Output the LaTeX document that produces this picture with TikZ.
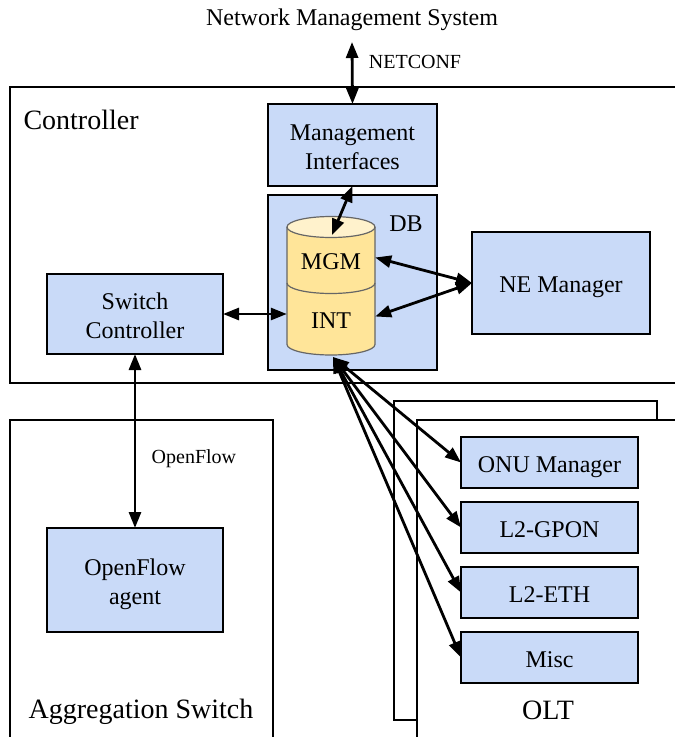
\documentclass[tikz,border=0pt]{standalone}
\usepackage{fontspec}
\setmainfont{Liberation Serif}
\usetikzlibrary{arrows.meta,positioning}
\definecolor{boxblue}{HTML}{C9DAF8}
\definecolor{dbyellow}{HTML}{FFE599}
\definecolor{dbtopfill}{HTML}{FFF2CC}
\definecolor{dbline}{HTML}{666666}

\begin{document}
\begin{tikzpicture}[
    x=1pt, y=-1pt,
    node distance=14pt,
    box/.style={rectangle, draw, line width=1.3pt, fill=boxblue, align=center, inner sep=0pt, outer sep=0pt, font=\fontsize{24}{29}\selectfont},
    oneline/.style={text height=19pt, text depth=0pt},
    twoline/.style={text height=48pt, text depth=0pt},
    oltbox/.style={box, oneline, minimum width=177pt, minimum height=51pt},
    panel/.style={line width=1.3pt},
    biglabel/.style={font=\fontsize{28}{32}\selectfont},
    lbl/.style={font=\fontsize{20}{24}\selectfont},
    dbpart/.style={inner sep=0pt, minimum width=88pt, text height=23pt, text depth=0pt, font=\fontsize{24}{28}\selectfont},
    arrow/.style={{Triangle[length=16pt,width=12pt]}-{Triangle[length=16pt,width=12pt]}, line width=2.8pt}
]
    \useasboundingbox (0,0) rectangle (675,737);

    % outer panels
    \draw[panel] (676,87) -- (10,87) -- (10,383) -- (676,383);
    \draw[panel] (273,738) -- (273,420) -- (10,420) -- (10,738);
    \draw[panel] (417,720) -- (394,720) -- (394,401) -- (657,401) -- (657,420);
    \draw[panel] (417,738) -- (417,420) -- (676,420);

    \node[biglabel, anchor=west] (ctrl) at (20,120) {Controller};
    \node[biglabel] (aggr) at (141,712) {Aggregation Switch};
    \node[biglabel] (oltlabel) at (548,710) {OLT};
    \node[font=\fontsize{24}{28}\selectfont] (nms) at (352,20) {Network Management System};

    % controller blocks
    \node[box, twoline, minimum width=169pt, minimum height=82pt] (mgmt) at (352.5,145) {Management\\Interfaces};
    \node[box, minimum width=169pt, minimum height=175pt] (db) at (352.5,282.5) {};
    \node[font=\fontsize{24}{28}\selectfont] (dblabel) at (406,224) {DB};
    \node[box, oneline, minimum width=178pt, minimum height=102pt] (ne) at (561,283) {NE Manager};
    \node[box, twoline, minimum width=176pt, minimum height=80pt] (switch) at (135,314) {Switch\\Controller};
    \node[box, twoline, minimum width=176pt, minimum height=104pt] (agent) at (135,580) {OpenFlow\\agent};

    % database cylinder
    \fill[dbyellow] (287,227) -- (287,344.5) arc[start angle=180, end angle=0, x radius=44, y radius=10.5] -- (375,227) -- cycle;
    \draw[dbline, line width=1.2pt] (287,227) -- (287,344.5) arc[start angle=180, end angle=0, x radius=44, y radius=10.5] -- (375,227);
    \draw[dbline, line width=1.2pt] (287,283) arc[start angle=180, end angle=0, x radius=44, y radius=10.5];
    \draw[dbline, line width=1.2pt, fill=dbtopfill] (331,227) ellipse[x radius=44, y radius=10.5];
    \node[dbpart, minimum height=61pt] (mgm) at (331,257.5) {MGM};
    \node[dbpart, minimum height=57pt] (int) at (331,316.5) {INT};
    \coordinate (dbtop) at (332,235);
    \coordinate (dbbot) at (333,357);
    \coordinate (nmsend) at (352,42);

    % OLT blocks
    \node[oltbox] (onu) at (549.5,462.5) {ONU Manager};
    \node[oltbox, below=of onu] (gpon) {L2-GPON};
    \node[oltbox, below=of gpon] (eth) {L2-ETH};
    \node[oltbox, below=of eth] (misc) {Misc};

    % connections
    \draw[arrow] (nmsend) -- (mgmt.north) node[pos=0.32, right=12pt, lbl] {NETCONF};
    \draw[arrow] (mgmt.south) -- (dbtop);
    \draw[arrow] (mgm.east) -- (ne.west);
    \draw[arrow] (int.east) -- (ne.west);
    \draw[arrow] (switch.east) -- (switch.east -| int.west);
    \draw[arrow] (switch.south) -- (agent.north) node[pos=0.6, right=12pt, lbl] {OpenFlow};
    \foreach \blk in {onu,gpon,eth,misc}
        \draw[arrow] (dbbot) -- (\blk.west);
\end{tikzpicture}
\end{document}
